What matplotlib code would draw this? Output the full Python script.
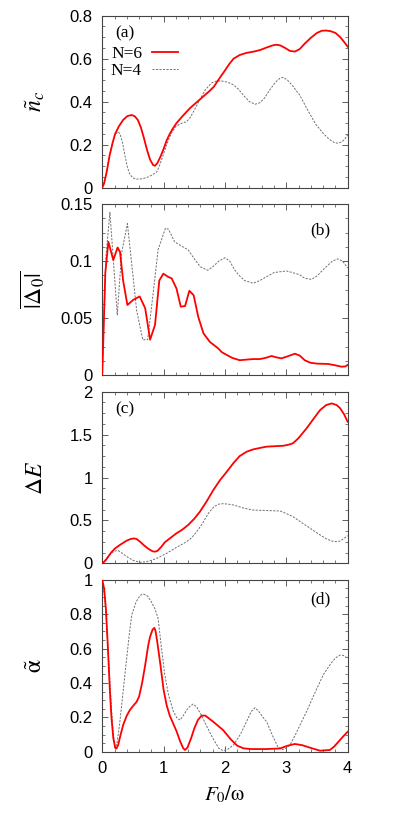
import matplotlib
matplotlib.use("Agg")
import matplotlib.pyplot as plt
from matplotlib.ticker import MultipleLocator, FixedLocator

plt.rcParams['font.family'] = ['Liberation Sans', 'DejaVu Sans']
plt.rcParams['mathtext.fontset'] = 'stix'

# ---------------- data ----------------
# panel (a): n_c tilde
a6_x = [0, 0.03, 0.07, 0.12, 0.17, 0.21, 0.27, 0.34, 0.41, 0.48, 0.53, 0.58, 0.63, 0.68, 0.73, 0.78, 0.83, 0.86,
        0.9, 0.95, 1.0, 1.05, 1.1, 1.15, 1.21, 1.3, 1.43, 1.55, 1.65, 1.75, 1.82, 1.89, 1.95, 2.0, 2.07, 2.14,
        2.24, 2.35, 2.47, 2.57, 2.68, 2.78, 2.84, 2.9, 2.98, 3.06, 3.14, 3.22, 3.3, 3.4, 3.5, 3.58, 3.65, 3.72,
        3.8, 3.88, 3.95, 4.0]
a6_y = [0, 0.02, 0.07, 0.15, 0.21, 0.25, 0.285, 0.315, 0.333, 0.338, 0.332, 0.315, 0.28, 0.23, 0.175, 0.13,
        0.105, 0.102, 0.115, 0.145, 0.18, 0.22, 0.25, 0.275, 0.3, 0.33, 0.37, 0.40, 0.425, 0.45, 0.47, 0.50,
        0.525, 0.545, 0.575, 0.60, 0.617, 0.627, 0.633, 0.64, 0.652, 0.662, 0.665, 0.662, 0.65, 0.636, 0.633,
        0.645, 0.67, 0.697, 0.72, 0.73, 0.731, 0.728, 0.72, 0.70, 0.675, 0.656]
a4_x = [0, 0.03, 0.07, 0.12, 0.17, 0.21, 0.26, 0.29, 0.33, 0.37, 0.41, 0.45, 0.5, 0.56, 0.65, 0.75, 0.83, 0.89,
        0.93, 0.98, 1.05, 1.12, 1.2, 1.3, 1.375, 1.43, 1.5, 1.59, 1.68, 1.78, 1.87, 1.95, 2.05, 2.14, 2.22, 2.3,
        2.4, 2.49, 2.57, 2.64, 2.72, 2.82, 2.9, 2.95, 3.02, 3.1, 3.22, 3.35, 3.48, 3.6, 3.7, 3.78, 3.84, 3.9,
        3.95, 4.0]
a4_y = [0, 0.02, 0.07, 0.15, 0.21, 0.25, 0.26, 0.25, 0.21, 0.15, 0.095, 0.062, 0.045, 0.04, 0.041, 0.05,
        0.062, 0.074, 0.10, 0.14, 0.2, 0.25, 0.285, 0.30, 0.307, 0.325, 0.36, 0.41, 0.455, 0.487, 0.497, 0.496,
        0.49, 0.478, 0.458, 0.43, 0.40, 0.388, 0.395, 0.415, 0.45, 0.49, 0.51, 0.513, 0.50, 0.475, 0.43, 0.36,
        0.295, 0.253, 0.225, 0.21, 0.207, 0.212, 0.225, 0.245]

# panel (b): |Delta_0| bar
b6_x = [0, 0.05, 0.1, 0.18, 0.25, 0.29, 0.34, 0.41, 0.505, 0.61, 0.70, 0.78, 0.86, 0.93, 0.995, 1.08, 1.13, 1.21,
        1.28, 1.35, 1.42, 1.49, 1.565, 1.65, 1.755, 1.89, 1.95, 2.03, 2.12, 2.24, 2.35, 2.46, 2.57, 2.66, 2.76,
        2.84, 2.92, 3.0, 3.14, 3.22, 3.3, 3.39, 3.5, 3.68, 3.8, 3.9, 3.96, 4.0]
b6_y = [0, 0.09, 0.117, 0.101, 0.112, 0.108, 0.083, 0.0615, 0.066, 0.069, 0.0586, 0.031, 0.044, 0.083, 0.089,
        0.086, 0.085, 0.076, 0.060, 0.0606, 0.074, 0.070, 0.051, 0.0366, 0.029, 0.0234, 0.020, 0.0176, 0.015,
        0.013, 0.0135, 0.014, 0.014, 0.015, 0.0167, 0.0155, 0.0146, 0.016, 0.0187, 0.017, 0.013, 0.0108, 0.010,
        0.0097, 0.0085, 0.0073, 0.0075, 0.0088]
b4_x = [0, 0.06, 0.125, 0.245, 0.315, 0.41, 0.56, 0.66, 0.74, 0.83, 0.91, 1.03, 1.08, 1.18, 1.3, 1.40, 1.5, 1.6,
        1.72, 1.8, 1.9, 2.0, 2.08, 2.15, 2.22, 2.32, 2.46, 2.57, 2.68, 2.8, 3.0, 3.1, 3.22, 3.3, 3.41, 3.5, 3.63,
        3.75, 3.84, 3.92, 4.0]
b4_y = [0, 0.104, 0.143, 0.0527, 0.107, 0.133, 0.057, 0.031, 0.031, 0.072, 0.11, 0.129, 0.128, 0.117, 0.113,
        0.11, 0.102, 0.095, 0.092, 0.095, 0.10, 0.103, 0.10, 0.093, 0.088, 0.083, 0.0806, 0.083, 0.0864, 0.09,
        0.0914, 0.09, 0.088, 0.085, 0.084, 0.087, 0.094, 0.10, 0.102, 0.10, 0.094]

# panel (c): Delta E
c6_x = [0, 0.05, 0.1, 0.15, 0.21, 0.3, 0.4, 0.47, 0.52, 0.56, 0.62, 0.68, 0.75, 0.82, 0.86, 0.9, 0.96, 1.02,
        1.1, 1.21, 1.3, 1.4, 1.5, 1.59, 1.7, 1.81, 1.92, 2.03, 2.14, 2.24, 2.35, 2.46, 2.57, 2.68, 2.8, 2.95,
        3.05, 3.11, 3.2, 3.33, 3.45, 3.55, 3.65, 3.74, 3.82, 3.875, 3.94, 4.0]
c6_y = [0, 0.03, 0.08, 0.13, 0.175, 0.22, 0.265, 0.285, 0.29, 0.283, 0.25, 0.21, 0.17, 0.14, 0.136, 0.145,
        0.19, 0.245, 0.29, 0.35, 0.39, 0.447, 0.52, 0.60, 0.72, 0.854, 0.97, 1.068, 1.17, 1.25, 1.30, 1.328,
        1.345, 1.36, 1.365, 1.37, 1.385, 1.40, 1.46, 1.573, 1.69, 1.786, 1.845, 1.864, 1.845, 1.81, 1.74, 1.65]
c4_x = [0, 0.06, 0.12, 0.17, 0.21, 0.26, 0.32, 0.40, 0.5, 0.61, 0.72, 0.8, 0.89, 1.05, 1.21, 1.375, 1.46, 1.54,
        1.62, 1.73, 1.82, 1.9, 1.97, 2.05, 2.14, 2.3, 2.46, 2.7, 2.90, 3.0, 3.11, 3.25, 3.39, 3.52, 3.66, 3.75,
        3.82, 3.88, 3.94, 4.0]
c4_y = [0, 0.05, 0.1, 0.13, 0.144, 0.148, 0.12, 0.078, 0.035, 0.012, 0.019, 0.035, 0.058, 0.117, 0.186, 0.252,
        0.30, 0.369, 0.45, 0.583, 0.66, 0.69, 0.695, 0.69, 0.68, 0.645, 0.621, 0.615, 0.61, 0.58, 0.544, 0.475,
        0.408, 0.345, 0.283, 0.258, 0.252, 0.26, 0.29, 0.322]

# panel (d): alpha tilde
d6_x = [0, 0.03, 0.06, 0.09, 0.125, 0.15, 0.18, 0.21, 0.23, 0.26, 0.3, 0.34, 0.4, 0.45, 0.5, 0.56, 0.6, 0.65,
        0.7, 0.75, 0.78, 0.82, 0.85, 0.87, 0.9, 0.95, 1.0, 1.05, 1.1, 1.21, 1.27, 1.32, 1.35, 1.39, 1.45, 1.5,
        1.56, 1.62, 1.68, 1.81, 1.97, 2.1, 2.2, 2.3, 2.41, 2.68, 2.90, 3.02, 3.14, 3.26, 3.39, 3.55, 3.71, 3.78,
        3.85, 3.93, 4.0]
d6_y = [1.0, 0.95, 0.83, 0.62, 0.35, 0.2, 0.08, 0.025, 0.018, 0.04, 0.1, 0.155, 0.21, 0.242, 0.265, 0.29, 0.32,
        0.40, 0.504, 0.62, 0.669, 0.71, 0.72, 0.70, 0.63, 0.50, 0.36, 0.27, 0.21, 0.12, 0.06, 0.02, 0.01, 0.025,
        0.08, 0.135, 0.185, 0.21, 0.21, 0.174, 0.126, 0.07, 0.035, 0.02, 0.0155, 0.0155, 0.019, 0.035, 0.045,
        0.038, 0.023, 0.006, 0.01, 0.03, 0.058, 0.09, 0.116]
d4_x = [0, 0.04, 0.07, 0.11, 0.15, 0.18, 0.21, 0.24, 0.28, 0.34, 0.4, 0.44, 0.48, 0.55, 0.62, 0.67, 0.74, 0.80,
        0.86, 0.91, 0.96, 1.02, 1.08, 1.16, 1.22, 1.27, 1.32, 1.4, 1.48, 1.54, 1.62, 1.7, 1.8, 1.9, 1.97, 2.05,
        2.14, 2.25, 2.35, 2.43, 2.49, 2.55, 2.62, 2.68, 2.78, 2.86, 2.93, 3.0, 3.06, 3.15, 3.25, 3.33, 3.45,
        3.6, 3.72, 3.8, 3.875, 3.93, 4.0]
d4_y = [1.0, 0.9, 0.74, 0.5, 0.25, 0.1, 0.019, 0.05, 0.15, 0.35, 0.55, 0.68, 0.795, 0.87, 0.91, 0.917, 0.905,
        0.872, 0.83, 0.775, 0.62, 0.446, 0.33, 0.233, 0.195, 0.184, 0.21, 0.255, 0.277, 0.26, 0.21, 0.15, 0.08,
        0.02, 0.006, 0.015, 0.039, 0.10, 0.174, 0.235, 0.256, 0.235, 0.20, 0.174, 0.09, 0.03, 0.012, 0.02, 0.039,
        0.10, 0.175, 0.233, 0.33, 0.446, 0.51, 0.545, 0.562, 0.56, 0.543]

panel_tags = ['(a)', '(b)', '(c)', '(d)']
ylabels = [r'$\tilde{n}_c$', r'$\overline{|\Delta_0|}$', r'$\Delta E$', r'$\tilde{\mathrm{α}}$']
ylims = [(0, 0.8), (0, 0.15), (0, 2), (0, 1)]
yticks = [[0, 0.2, 0.4, 0.6, 0.8], [0, 0.05, 0.1, 0.15], [0, 0.5, 1, 1.5, 2], [0, 0.2, 0.4, 0.6, 0.8, 1]]
yticklabels = [['0', '0.2', '0.4', '0.6', '0.8'], ['0', '0.05', '0.1', '0.15'],
               ['0', '0.5', '1', '1.5', '2'], ['0', '0.2', '0.4', '0.6', '0.8', '1']]
xticks = [0, 1, 2, 3, 4]
xticklabels = ['0', '1', '2', '3', '4']
xlabel = r'$F_0/\mathrm{ω}$'
legend_labels = ['N=6', 'N=4']

series6 = [(a6_x, a6_y), (b6_x, b6_y), (c6_x, c6_y), (d6_x, d6_y)]
series4 = [(a4_x, a4_y), (b4_x, b4_y), (c4_x, c4_y), (d4_x, d4_y)]

# ---------------- figure ----------------
fig = plt.figure(figsize=(4.09, 8.17), dpi=100)
left, width = 0.250, 0.600
bottoms = [0.7703, 0.5410, 0.3105, 0.0799]
heights = [0.2105, 0.2090, 0.2100, 0.2105]
tag_pos = [(0.052, 0.945, 'left'), (0.93, 0.895, 'right'), (0.052, 0.945, 'left'), (0.93, 0.93, 'right')]

red = '#ff0000'
gray = '#707070'

for i in range(4):
    ax = fig.add_axes([left, bottoms[i], width, heights[i]])
    x6, y6 = series6[i]
    x4, y4 = series4[i]
    ax.plot(x4, y4, color=gray, lw=0.7, ls=(0, (2.2, 1.4)), label=legend_labels[1], zorder=2)
    ax.plot(x6, y6, color=red, lw=1.3, label=legend_labels[0], zorder=3)
    ax.set_xlim(0, 4)
    ax.set_ylim(*ylims[i])
    ax.xaxis.set_major_locator(FixedLocator(xticks))
    ax.xaxis.set_minor_locator(MultipleLocator(0.2))
    ax.yaxis.set_major_locator(FixedLocator(yticks[i]))
    ax.yaxis.set_minor_locator(MultipleLocator((yticks[i][1] - yticks[i][0]) / 4))
    ax.set_yticklabels(yticklabels[i])
    if i == 3:
        ax.set_xticklabels(xticklabels)
        ax.set_xlabel(xlabel, fontsize=15, labelpad=5)
    else:
        ax.set_xticklabels([])
    ax.tick_params(which='both', direction='in', top=True, right=True, labelsize=12, pad=7,
                   color='#444444', labelcolor='black')
    ax.tick_params(which='major', length=4.5, width=0.6)
    ax.tick_params(which='minor', length=2.5, width=0.5)
    for s in ax.spines.values():
        s.set_color('#444444')
        s.set_linewidth(0.8)
    ax.set_ylabel(ylabels[i], fontsize=17)
    ax.yaxis.set_label_coords(-0.225, 0.5)
    tx, ty, ha = tag_pos[i]
    ax.text(tx, ty, panel_tags[i], transform=ax.transAxes, ha=ha, va='top',
            fontsize=12.5, family='Liberation Serif')
    if i == 0:
        h, l = ax.get_legend_handles_labels()
        ax.legend(h[::-1], l[::-1], loc='upper left', bbox_to_anchor=(0.035, 0.825), frameon=False,
                  markerfirst=False, prop={'family': 'Liberation Serif', 'size': 12.5},
                  handlelength=1.5, handletextpad=0.6, labelspacing=0.08, borderaxespad=0.0,
                  borderpad=0.0)

fig.savefig('out.png', dpi=100)
